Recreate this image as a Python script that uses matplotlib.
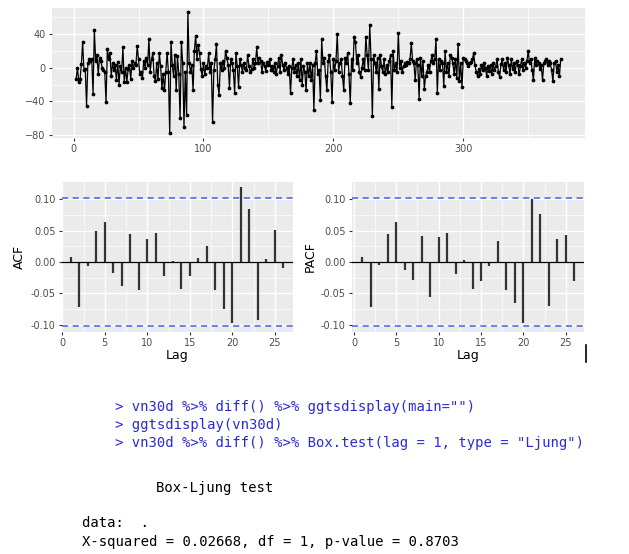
import numpy as np
import matplotlib
matplotlib.use("Agg")
import matplotlib.pyplot as plt

# differenced series, starts at t = 2
diff_vals = [
    -13, 0, -17, -14, 4, 30, -3, -2, -45, 5,
    10, 8, 10, -31, 45, 8, 15, -8, 12, 8,
    0, -3, -5, -41, 22, 10, 18, -10, 5, -3,
    3, -15, 7, -20, 2, -5, 24, -17, 0, -17,
    -2, 3, -14, 8, 0, 5, 3, 26, 10, -8,
    -5, -12, 8, 0, 12, 3, 34, -5, 10, 17,
    -10, -16, 5, -14, 17, 2, -24, -8, -27, -5,
    18, -5, -78, 31, 3, -10, 15, -27, 14, -8,
    -60, 31, 5, -70, -5, -56, 66, 5, -5, 3,
    -27, 20, 38, 10, 27, 17, -2, -10, 5, -8,
    2, 0, 17, -5, 5, -65, -3, 10, 28, -20,
    -32, 5, -3, 8, 0, 20, 12, 3, -24, 10,
    5, -3, -30, 17, 2, -23, 10, 3, -5, 5,
    0, -3, 15, 2, -5, -2, 10, 0, 5, 24,
    5, 12, 8, -5, 6, 2, -4, 7, 3, 10,
    -3, 2, -5, 5, -8, 2, 12, -5, 15, 3,
    -3, 5, 0, -8, 2, -30, 0, 10, -5, 3,
    -10, 5, -15, 10, -20, 2, -5, -27, 5, -10,
    5, -15, 3, -50, 5, 20, -8, -3, -38, 34,
    5, 12, -10, -27, 8, 15, -5, -41, 10, -3,
    8, 40, -5, 5, 10, -10, -27, 12, 5, 18,
    -8, -42, 10, -3, 37, 30, 5, 15, -5, -11,
    0, 10, -3, 37, 15, -3, 51, 10, -57, 15,
    5, -5, 12, -25, 15, 2, -5, 10, -8, 3,
    -5, 8, 15, -47, 20, -3, 5, -5, 41, 0,
    8, -5, 2, 5, 3, 7, 5, 10, 29, 8,
    5, -15, 10, 3, -37, 12, -10, 8, -25, -10,
    -5, 3, -5, 8, 15, 5, 10, 34, -30, 10,
    -3, 8, 5, -22, 20, -5, 5, -10, 15, 12,
    5, -8, 10, -12, 28, -16, 5, -23, 12, 10,
    8, 5, 2, 5, 7, 10, 17, 3, -5, -10,
    -2, -8, 3, -3, 5, 0, -10, 2, -4, 3,
    -8, 5, -3, 2, 10, -5, -11, 4, 10, -3,
    6, -5, 12, 3, -8, 10, -2, 5, -5, 8,
    3, -8, 2, 10, -3, 5, 0, 8, 20, 5,
    10, -3, -15, 12, 3, 8, 5, -2, 3, -15,
    5, 8, 10, 3, 8, 5, -3, -16, 5, 8,
    -5, 3, -10, 10,
]

lags = list(range(1, 27))
acf_vals = [0.008, -0.071, -0.006, 0.049, 0.064, -0.018, -0.038, 0.045, -0.044, 0.036,
            0.047, -0.022, 0.001, -0.043, -0.023, 0.006, 0.026, -0.044, -0.075, -0.097,
            0.119, 0.084, -0.093, 0.005, 0.051, -0.009]
pacf_vals = [0.008, -0.071, -0.005, 0.045, 0.063, -0.013, -0.029, 0.041, -0.055, 0.040,
             0.046, -0.019, 0.004, -0.043, -0.030, -0.007, 0.034, -0.045, -0.066, -0.097,
             0.101, 0.076, -0.070, 0.037, 0.043, -0.030]

cmd_lines = ['> vn30d %>% diff() %>% ggtsdisplay(main="")',
             '> ggtsdisplay(vn30d)',
             '> vn30d %>% diff() %>% Box.test(lag = 1, type = "Ljung")']
out_title = 'Box-Ljung test'
out_lines = ['data:  .',
             'X-squared = 0.02668, df = 1, p-value = 0.8703']

W, H = 629, 554
fig = plt.figure(figsize=(W / 100, H / 100), dpi=100)
fig.patch.set_facecolor('white')


def px_axes(l, t, r, b):
    return fig.add_axes([l / W, 1 - b / H, (r - l) / W, (b - t) / H])


def gg_style(ax):
    ax.set_facecolor('#ebebeb')
    for s in ax.spines.values():
        s.set_visible(False)
    ax.grid(True, which='major', color='white', lw=1.0)
    ax.grid(True, which='minor', color='white', lw=0.5)
    ax.set_axisbelow(True)
    ax.tick_params(which='major', colors='#333333', labelcolor='#4d4d4d',
                   labelsize=7, length=2.5, width=0.8, pad=2)
    ax.tick_params(which='minor', length=0)


# top: time series
ax0 = px_axes(52, 8.3, 585, 138)
gg_style(ax0)
t = np.arange(2, 2 + len(diff_vals))
ax0.plot(t, diff_vals, color='black', lw=0.9, marker='o', ms=1.7)
ax0.set_xlim(-16.6, 393.7)
ax0.set_ylim(-83.5, 70.5)
ax0.set_xticks([0, 100, 200, 300])
ax0.set_xticks([50, 150, 250, 350], minor=True)
ax0.set_yticks([-80, -40, 0, 40])
ax0.set_yticks([-60, -20, 20, 60], minor=True)

# ACF / PACF
n = len(diff_vals)
ci = 1.96 / np.sqrt(n)
for (l, r, vals, lab, xl) in [(61.7, 292.7, acf_vals, 'ACF', (-0.07, 27.1)),
                               (351.7, 584.3, pacf_vals, 'PACF', (-0.27, 27.2))]:
    ax = px_axes(l, 181.7, r, 331.7)
    gg_style(ax)
    ax.vlines(lags, 0, vals, color='#333333', lw=1.6)
    ax.axhline(0, color='black', lw=0.9)
    ax.axhline(ci, color='#4a5ef0', lw=1.1, ls=(0, (4, 3)))
    ax.axhline(-ci, color='#4a5ef0', lw=1.1, ls=(0, (4, 3)))
    ax.set_xlim(*xl)
    ax.set_ylim(-0.111, 0.128)
    ax.set_xticks([0, 5, 10, 15, 20, 25])
    ax.set_xticks([2.5, 7.5, 12.5, 17.5, 22.5], minor=True)
    ax.set_yticks([-0.10, -0.05, 0.00, 0.05, 0.10])
    ax.set_yticks([-0.075, -0.025, 0.025, 0.075], minor=True)
    ax.set_yticklabels(['-0.10', '-0.05', '0.00', '0.05', '0.10'])
    ax.set_xlabel('Lag', fontsize=9, labelpad=1)
    ax.set_ylabel(lab, fontsize=9, labelpad=3)

# stray cursor mark
fig.add_artist(plt.Line2D([585.7 / W, 585.7 / W], [1 - 345 / H, 1 - 362 / H],
                          color='black', lw=1.2))

mono = 'DejaVu Sans Mono'
fs = 10
for i, s in enumerate(cmd_lines):
    fig.text(115 / W, 1 - (406.7 + i * 18.3) / H, s, family=mono, fontsize=fs,
             color='#2b2bd6', va='center', ha='left')
fig.text(156 / W, 1 - 488.3 / H, out_title, family=mono, fontsize=fs,
         color='black', va='center', ha='left')
for i, s in enumerate(out_lines):
    fig.text(82 / W, 1 - (523.3 + i * 18.3) / H, s, family=mono, fontsize=fs,
             color='black', va='center', ha='left')

fig.savefig('out.png', dpi=100)
